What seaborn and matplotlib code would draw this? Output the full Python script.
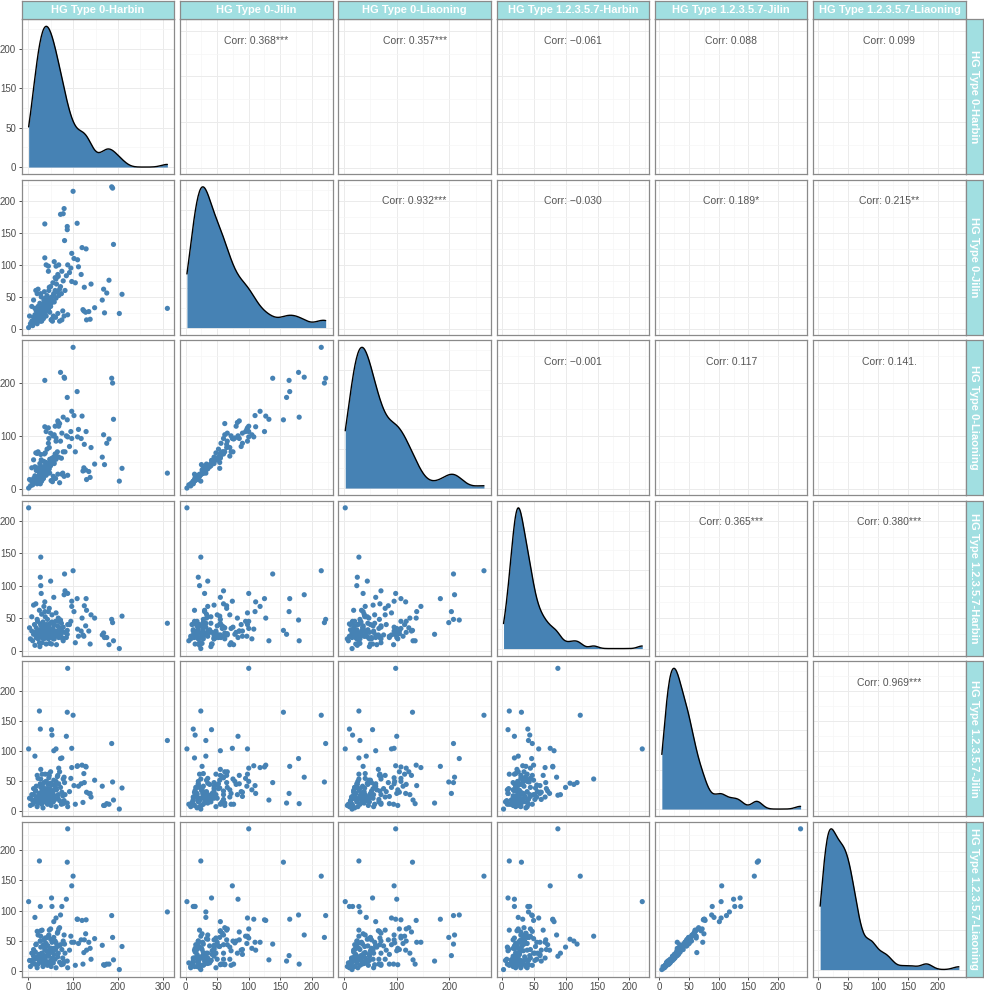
import numpy as np
import pandas as pd
import matplotlib
matplotlib.use("Agg")
import matplotlib.pyplot as plt
import seaborn as sns

sns.set_theme(style="white")
plt.rcParams['font.family'] = ['Liberation Sans', 'DejaVu Sans']

# ---------------- data ----------------
var_names = ["HG Type 0-Harbin", "HG Type 0-Jilin", "HG Type 0-Liaoning",
             "HG Type 1.2.3.5.7-Harbin", "HG Type 1.2.3.5.7-Jilin",
             "HG Type 1.2.3.5.7-Liaoning"]

harbin0 = [310, 1, 88, 25, 87, 100, 97, 186, 188, 190,
           209, 203, 180, 175, 168, 165, 170, 148, 138, 135,
           128, 124, 129, 28, 72, 80, 81, 78, 37, 109,
           87, 97, 102, 37, 52, 85, 27, 53, 75, 15,
           57, 62, 110, 120, 27, 50, 28, 29, 82, 66,
           60, 70, 95, 58, 45, 92, 62, 125, 105,
           5, 8, 10, 12, 14, 15, 16, 18, 18, 20,
           20, 21, 22, 22, 24, 25, 26, 27, 28, 29,
           30, 30, 31, 32, 33, 34, 35, 35, 36, 37,
           38, 38, 39, 40, 40, 41, 42, 43, 44, 45,
           45, 46, 47, 48, 48, 50, 50, 51, 52, 53,
           54, 55, 56, 57, 58, 60, 61, 62, 63, 65,
           66, 67, 68, 70, 72, 74, 75, 77, 78, 80,
           112, 140, 88, 118, 122, 130, 8, 12, 3, 45,
           40, 68, 47, 17, 33]

jilin0 = [32, 2, 100, 24, 155, 215, 74, 222, 220, 132,
          54, 24, 76, 56, 62, 45, 25, 33, 15, 27,
          26, 28, 125, 24, 179, 188, 138, 180, 164, 165,
          160, 118, 110, 111, 41, 83, 12, 15, 14, 32,
          55, 98, 108, 127, 20, 35, 22, 30, 60, 85,
          80, 62, 95, 105, 90, 88, 78, 65, 72,
          8, 12, 5, 18, 10, 22, 15, 20, 28, 8,
          55, 14, 62, 35, 18, 30, 40, 20, 55, 50,
          12, 33, 22, 38, 28, 16, 35, 45, 58, 25,
          40, 48, 32, 20, 42, 36, 52, 28, 38, 45,
          30, 60, 35, 48, 26, 40, 66, 14, 45, 50,
          12, 72, 20, 54, 42, 60, 18, 48, 70, 58,
          24, 82, 52, 12, 66, 55, 90, 28, 75, 20,
          97, 70, 22, 85, 30, 14, 35, 45, 20, 98,
          100, 100, 65, 60, 18]

liaoning0 = [30, 2, 98, 28, 130, 266, 95, 208, 199, 131,
             39, 15, 94, 86, 102, 60, 46, 47, 22, 33,
             36, 40, 108, 28, 219, 210, 208, 135, 204, 183,
             172, 146, 138, 117, 54, 100, 10, 16, 28, 42,
             60, 90, 98, 137, 25, 44, 24, 36, 70, 128,
             118, 123, 108, 102, 86, 80, 96, 84, 70,
             6, 14, 8, 20, 12, 25, 18, 22, 35, 10,
             67, 16, 70, 40, 22, 33, 48, 24, 65, 55,
             15, 38, 28, 42, 32, 20, 40, 52, 66, 28,
             44, 68, 36, 26, 50, 41, 75, 30, 45, 48,
             36, 95, 38, 56, 30, 45, 105, 16, 52, 58,
             14, 100, 24, 50, 48, 66, 20, 56, 62, 70,
             28, 125, 60, 12, 90, 58, 105, 30, 70, 24,
             112, 78, 26, 95, 34, 18, 40, 55, 18, 115,
             108, 118, 78, 68, 20]

harbin1 = [42, 220, 88, 12, 31, 123, 76, 48, 43, 15,
           53, 3, 9, 20, 27, 24, 20, 50, 10, 30,
           38, 22, 80, 144, 47, 86, 118, 15, 60, 80,
           25, 68, 60, 75, 10, 20, 41, 44, 20, 26,
           82, 58, 33, 50, 113, 107, 100, 88, 92, 30,
           28, 35, 45, 18, 22, 40, 25, 69, 12,
           18, 30, 15, 25, 40, 8, 28, 20, 35, 22,
           48, 45, 18, 30, 26, 62, 6, 32, 24, 38,
           20, 56, 12, 28, 44, 22, 68, 18, 34, 26,
           52, 20, 36, 40, 10, 30, 24, 48, 32, 18,
           60, 36, 22, 28, 11, 42, 26, 30, 20, 55,
           24, 34, 18, 40, 28, 22, 45, 30, 9, 38,
           26, 50, 20, 32, 24, 42, 30, 18, 36, 28,
           22, 55, 40, 30, 24, 62, 52, 70, 35, 40,
           34, 45, 65, 72, 38]

jilin1 = [118, 104, 238, 167, 165, 160, 105, 113, 49, 19,
          39, 4, 12, 13, 10, 42, 10, 52, 30, 30,
          75, 63, 74, 54, 88, 57, 48, 13, 30, 75,
          14, 73, 43, 30, 136, 125, 137, 127, 89, 92,
          101, 104, 76, 77, 45, 47, 40, 27, 28, 60,
          45, 66, 55, 36, 25, 33, 50, 48, 12,
          10, 20, 12, 28, 15, 18, 35, 22, 42, 8,
          60, 25, 14, 55, 30, 20, 16, 46, 70, 22,
          12, 33, 62, 18, 28, 40, 24, 48, 16, 35,
          20, 62, 26, 50, 30, 18, 38, 12, 45, 22,
          32, 56, 14, 28, 38, 20, 66, 10, 34, 44,
          24, 30, 16, 52, 26, 20, 40, 8, 36, 58,
          22, 28, 46, 18, 40, 12, 32, 26, 54, 18,
          42, 24, 8, 46, 15, 32, 28, 38, 22, 62,
          50, 72, 60, 34, 6]

liaoning1 = [98, 115, 235, 182, 180, 157, 141, 92, 56, 19,
             41, 3, 12, 12, 11, 43, 10, 54, 38, 48,
             62, 31, 85, 58, 93, 60, 45, 12, 26, 86,
             17, 48, 48, 35, 121, 119, 107, 107, 107, 89,
             82, 88, 86, 84, 50, 53, 40, 25, 30, 65,
             50, 72, 58, 38, 28, 35, 47, 52, 10,
             8, 18, 14, 25, 12, 20, 32, 24, 45, 6,
             66, 22, 12, 60, 28, 17, 18, 50, 67, 20,
             15, 30, 68, 14, 26, 44, 22, 52, 12, 38,
             18, 55, 24, 46, 34, 16, 42, 10, 42, 25,
             28, 60, 13, 30, 36, 18, 70, 8, 38, 48,
             22, 34, 14, 56, 28, 20, 36, 6, 40, 63,
             24, 30, 42, 15, 44, 11, 36, 22, 50, 16,
             46, 20, 6, 52, 12, 35, 30, 36, 18, 58,
             55, 70, 68, 44, 8]

axis_ticks = [[0, 100, 200, 300],
              [0, 50, 100, 150, 200],
              [0, 100, 200],
              [0, 50, 100, 150, 200],
              [0, 50, 100, 150, 200],
              [0, 50, 100, 150, 200]]

diag_tick_labels = ["0", "50", "150", "200"]

corr_text = [
    ["", "Corr: 0.368***", "Corr: 0.357***", "Corr: \u22120.061", "Corr: 0.088", "Corr: 0.099"],
    ["", "", "Corr: 0.932***", "Corr: \u22120.030", "Corr: 0.189*", "Corr: 0.215**"],
    ["", "", "", "Corr: \u22120.001", "Corr: 0.117", "Corr: 0.141."],
    ["", "", "", "", "Corr: 0.365***", "Corr: 0.380***"],
    ["", "", "", "", "", "Corr: 0.969***"],
    ["", "", "", "", "", ""],
]

df = pd.DataFrame(dict(zip(var_names, [harbin0, jilin0, liaoning0,
                                       harbin1, jilin1, liaoning1])))

# ---------------- style / layout ----------------
W, H = 984, 991
POINT = "#4682B4"
STRIP = "#A1DFE1"
BORDER = "#8A8A8A"
GRID_MAJ = "#EBEBEB"
GRID_MIN = "#F5F5F5"
TICK_TXT = "#4D4D4D"

left0, pw, hgap = 21.7, 152.6, 5.7
top0, ph, vgap = 19.3, 154.8, 5.7
strip_h, strip_w = 18.3, 17.0

fig = plt.figure(figsize=(W / 100, H / 100), dpi=100)
n = len(var_names)


def rect(x, y, w, h):
    return [x / W, 1 - (y + h) / H, w / W, h / H]


def limits(v):
    a = np.asarray(df[v], float)
    lo, hi = a.min(), a.max()
    pad = 0.05 * (hi - lo)
    return lo - pad, hi + pad


def minors(ticks, lim):
    step = ticks[1] - ticks[0]
    cand = [t + step / 2 for t in [ticks[0] - step] + list(ticks)]
    return [c for c in cand if lim[0] <= c <= lim[1]]


def nrd0_factor(x):
    x = np.asarray(x, float)
    sd = x.std(ddof=1)
    q75, q25 = np.percentile(x, [75, 25])
    bw = 0.9 * min(sd, (q75 - q25) / 1.34) * len(x) ** (-0.2)
    return bw / sd


lims = [limits(v) for v in var_names]
diag_pos = [0, 1 / 3.58, 2 / 3.58, 3 / 3.58]

for i in range(n):          # row
    for j in range(n):      # column
        x0 = left0 + j * (pw + hgap)
        y0 = top0 + i * (ph + vgap)
        ax = fig.add_axes(rect(x0, y0, pw, ph))
        ax.set_facecolor("white")
        xv, yv = var_names[j], var_names[i]
        xt = axis_ticks[j]
        ax.set_xlim(*lims[j])
        ax.set_xticks(xt)
        ax.set_xticks(minors(xt, lims[j]), minor=True)

        if i == j:
            ax.set_ylim(-0.05, 1.05)
            ax.set_yticks(diag_pos)
            ax.set_yticks([p + diag_pos[1] / 2 for p in diag_pos], minor=True)
            if i == 0:
                ax.set_yticklabels(diag_tick_labels)
        else:
            yt = axis_ticks[i]
            ax.set_ylim(*lims[i])
            ax.set_yticks(yt)
            ax.set_yticks(minors(yt, lims[i]), minor=True)

        ax.set_axisbelow(True)
        ax.grid(which="major", color=GRID_MAJ, linewidth=0.7)
        ax.grid(which="minor", color=GRID_MIN, linewidth=0.45)

        if i > j:
            sns.scatterplot(x=df[xv], y=df[yv], ax=ax, s=14, color=POINT,
                            edgecolor="none", linewidth=0, zorder=3)
        elif i < j:
            ax.text(0.5, 0.86, corr_text[i][j], transform=ax.transAxes,
                    ha="center", va="center", fontsize=7.5, color="#555555")
        else:
            ax2 = ax.twinx()
            fac = nrd0_factor(df[xv])
            sns.kdeplot(x=df[xv], ax=ax2, fill=True, cut=0, bw_method=fac,
                        color=POINT, alpha=1, linewidth=0)
            sns.kdeplot(x=df[xv], ax=ax2, fill=False, cut=0, bw_method=fac,
                        color="black", linewidth=1.0)
            pk = max(l.get_ydata().max() for l in ax2.lines)
            ax2.set_ylim(-0.05 * pk, 1.05 * pk)
            ax2.set_yticks([])
            ax2.set_ylabel("")
            ax2.grid(False)
            for s in ax2.spines.values():
                s.set_visible(False)
            ax.set_xlim(*lims[j])

        ax.set_xlabel("")
        ax.set_ylabel("")
        for s in ax.spines.values():
            s.set_color(BORDER)
            s.set_linewidth(0.9)
            s.set_visible(True)
        show_x = (i == n - 1)
        show_y = (j == 0)
        ax.tick_params(axis="x", which="major", bottom=show_x, labelbottom=show_x,
                       length=2.5, width=0.6, color="#333333",
                       labelsize=7, labelcolor=TICK_TXT, pad=1.5)
        ax.tick_params(axis="y", which="major", left=show_y, labelleft=show_y,
                       length=2.5, width=0.6, color="#333333",
                       labelsize=7, labelcolor=TICK_TXT, pad=1.5)
        ax.tick_params(which="minor", length=0)

        # strips
        if i == 0:
            sax = fig.add_axes(rect(x0, y0 - strip_h, pw, strip_h))
            sax.set_facecolor(STRIP)
            sax.set_xticks([]); sax.set_yticks([])
            for s in sax.spines.values():
                s.set_color(BORDER); s.set_linewidth(0.9)
            sax.text(0.5, 0.5, var_names[j], ha="center", va="center",
                     color="white", fontsize=8, fontweight="bold",
                     transform=sax.transAxes)
        if j == n - 1:
            rax = fig.add_axes(rect(x0 + pw, y0, strip_w, ph))
            rax.set_facecolor(STRIP)
            rax.set_xticks([]); rax.set_yticks([])
            for s in rax.spines.values():
                s.set_color(BORDER); s.set_linewidth(0.9)
            rax.text(0.5, 0.5, var_names[i], ha="center", va="center",
                     color="white", fontsize=8, fontweight="bold",
                     rotation=-90, transform=rax.transAxes)

fig.savefig("out.png", dpi=100, facecolor="white")
